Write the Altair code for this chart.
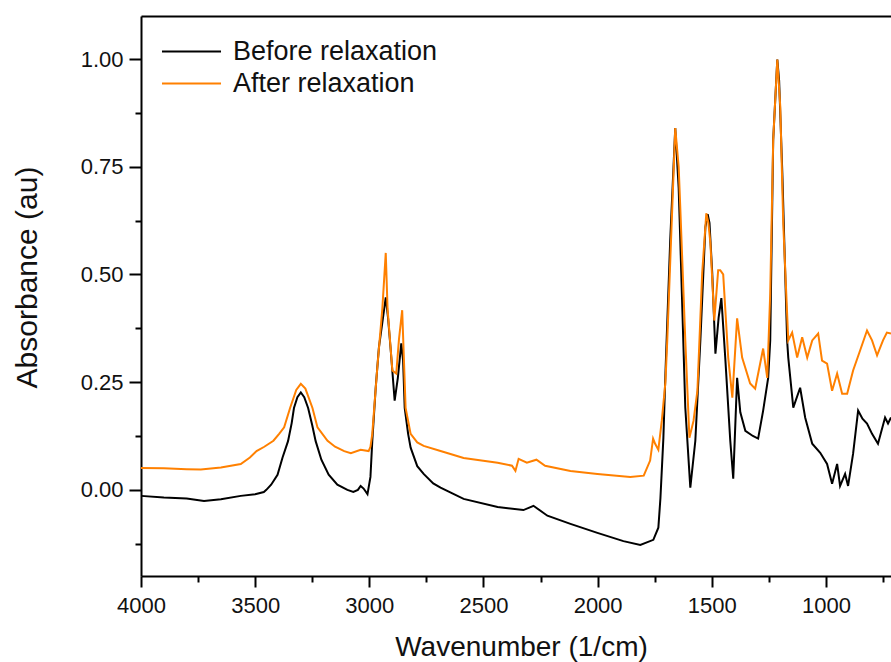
import altair as alt
import pandas as pd

# Before relaxation (black)
before_wn = [4000, 3900, 3800, 3724, 3650, 3563, 3500, 3462, 3451, 3430, 3402, 3380, 3356, 3340, 3330,
             3315, 3300, 3285, 3268, 3250, 3235, 3210, 3178, 3140, 3096, 3070, 3050, 3038, 3025, 3008,
             2995, 2987, 2972, 2958, 2940, 2928, 2918, 2906, 2889, 2875, 2860, 2852, 2845, 2830, 2819,
             2790, 2762, 2720, 2688, 2587, 2438, 2325, 2281, 2220, 2119, 2001, 1887,
             1813, 1756, 1734, 1725, 1712, 1703, 1682, 1660, 1645, 1638, 1616, 1594, 1572, 1550, 1528,
             1518, 1510, 1498, 1484, 1470, 1458, 1441, 1419, 1406, 1389, 1375, 1353, 1320, 1297, 1275,
             1253, 1244, 1231, 1213, 1205, 1191, 1170, 1165, 1143, 1113, 1091, 1060, 1025, 995, 973,
             951, 938, 916, 903, 881, 859, 840, 820, 798, 772, 741, 728, 715]
before_abs = [-0.014, -0.018, -0.020, -0.026, -0.022, -0.014, -0.010, -0.005, 0.0, 0.012, 0.035, 0.075, 0.113, 0.155, 0.19,
              0.215, 0.226, 0.215, 0.19, 0.15, 0.113, 0.07, 0.035, 0.012, 0.0, -0.005, 0.0, 0.009, 0.003, -0.01,
              0.03, 0.113, 0.237, 0.33, 0.40, 0.447, 0.40, 0.323, 0.207, 0.26, 0.34, 0.30, 0.19, 0.13, 0.098,
              0.055, 0.037, 0.015, 0.005, -0.021, -0.04, -0.047, -0.037, -0.06, -0.079, -0.1, -0.119,
              -0.128, -0.116, -0.088, -0.02, 0.12, 0.27, 0.58, 0.84, 0.70, 0.58, 0.191, 0.005, 0.114, 0.347, 0.61,
              0.64, 0.62, 0.503, 0.316, 0.40, 0.445, 0.307, 0.114, 0.026, 0.26, 0.18, 0.137, 0.125, 0.119, 0.184,
              0.26, 0.347, 0.812, 0.999, 0.95, 0.736, 0.347, 0.307, 0.191, 0.237, 0.168, 0.107, 0.086, 0.06, 0.014,
              0.06, 0.009, 0.037, 0.009, 0.084, 0.184, 0.165, 0.154, 0.13, 0.107, 0.168, 0.154, 0.168]

# After relaxation (orange)
after_wn = [4000, 3900, 3800, 3738, 3650, 3563, 3523, 3494, 3460, 3420, 3395, 3373, 3347, 3320, 3300,
            3280, 3249, 3227, 3183, 3150, 3110, 3081, 3038, 3003, 2995, 2987, 2965, 2943, 2928, 2920,
            2899, 2882, 2870, 2856, 2841, 2819, 2790, 2762, 2688, 2587, 2438, 2375, 2360, 2346, 2310,
            2268, 2230, 2119, 2001, 1857,
            1798, 1770, 1757, 1748, 1734, 1719, 1703, 1695, 1673, 1660, 1645, 1638, 1616, 1598, 1580,
            1563, 1542, 1524, 1515, 1506, 1489, 1472, 1463, 1450, 1428, 1410, 1389, 1367, 1332, 1310,
            1275, 1257, 1244, 1231, 1213, 1200, 1187, 1165, 1148, 1126, 1104, 1082, 1060, 1034, 1017,
            995, 973, 951, 929, 907, 881, 850, 820, 798, 776, 750, 733, 715]
after_abs = [0.051, 0.050, 0.048, 0.047, 0.052, 0.06, 0.075, 0.09, 0.10, 0.114, 0.13, 0.145, 0.19, 0.232, 0.246,
             0.235, 0.19, 0.145, 0.114, 0.10, 0.09, 0.085, 0.093, 0.09, 0.10, 0.13, 0.284, 0.42, 0.55, 0.42,
             0.277, 0.27, 0.35, 0.417, 0.19, 0.13, 0.11, 0.102, 0.09, 0.074, 0.063, 0.056, 0.044, 0.072, 0.063,
             0.07, 0.056, 0.044, 0.037, 0.03,
             0.033, 0.068, 0.119, 0.107, 0.093, 0.16, 0.25, 0.347, 0.656, 0.84, 0.75, 0.656, 0.347, 0.121, 0.16,
             0.23, 0.503, 0.642, 0.62, 0.573, 0.393, 0.51, 0.51, 0.50, 0.307, 0.214, 0.398, 0.307, 0.247, 0.235,
             0.328, 0.26, 0.456, 0.812, 0.999, 0.89, 0.619, 0.347, 0.365, 0.307, 0.354, 0.307, 0.347, 0.363, 0.30,
             0.293, 0.23, 0.27, 0.223, 0.223, 0.277, 0.324, 0.37, 0.347, 0.312, 0.347, 0.365, 0.363]

series_names = ["Before relaxation", "After relaxation"]
series_colors = ["#000000", "#FF8000"]
x_ticks = list(range(4000, 700, -250))
y_ticks = [-0.125, 0.0, 0.125, 0.25, 0.375, 0.5, 0.625, 0.75, 0.875, 1.0]

rows = []
for i, (w, a) in enumerate(zip(before_wn, before_abs)):
    rows.append({"wn": w, "abs": a, "series": series_names[0], "order": i})
for i, (w, a) in enumerate(zip(after_wn, after_abs)):
    rows.append({"wn": w, "abs": a, "series": series_names[1], "order": i})
df = pd.DataFrame(rows)

FONT = "Arial"
xscale = alt.Scale(domain=[4000, 715], nice=False, zero=False)
yscale = alt.Scale(domain=[-0.2, 1.1], nice=False, zero=False)

x_axis = alt.Axis(
    values=x_ticks,
    labelExpr="datum.value % 500 == 0 ? format(datum.value, 'd') : ''",
    tickSize={"condition": {"test": "datum.value % 500 != 0", "value": 6}, "value": 11},
    tickWidth=2, tickColor="black", domainWidth=2, domainColor="black",
    labelFontSize=22, labelFont=FONT, labelColor="#111", labelPadding=8,
    labelFlush=False, labelOverlap=False, grid=False,
    title="Wavenumber (1/cm)", titleFontSize=28, titleFont=FONT, titleFontWeight="normal",
    titleColor="#111", titleX=380, titleY=79, titleBaseline="alphabetic", titleAlign="center",
)
y_axis = alt.Axis(
    values=y_ticks,
    labelExpr="abs(datum.value*4 - round(datum.value*4)) > 0.01 ? '' : format(datum.value, '.2f')",
    tickSize={"condition": {"test": "abs(datum.value*4 - round(datum.value*4)) > 0.01", "value": 6}, "value": 12},
    tickWidth=2, tickColor="black", domainWidth=2, domainColor="black",
    labelFontSize=22, labelFont=FONT, labelColor="#111", labelPadding=6,
    labelOverlap=False, grid=False,
    title="Absorbance (au)", titleFontSize=30, titleFont=FONT, titleFontWeight="normal",
    titleColor="#111", titleX=-114, titleY=261, titleBaseline="middle", titleAlign="center",
    titleAngle=270,
)

lines = alt.Chart(df).mark_line(strokeWidth=2).encode(
    x=alt.X("wn:Q", scale=xscale, axis=x_axis),
    y=alt.Y("abs:Q", scale=yscale, axis=y_axis),
    color=alt.Color("series:N", sort=series_names,
                    scale=alt.Scale(domain=series_names, range=series_colors),
                    legend=alt.Legend(title=None, orient="none", legendX=37, legendY=22,
                                      symbolType="M-3,0L3,0", symbolSize=387, symbolStrokeWidth=2,
                                      labelFontSize=27, labelFont=FONT, labelColor="#111",
                                      labelOffset=28, rowPadding=4, padding=0, offset=0,
                                      labelLimit=400)),
    detail="series:N",
    order="order:Q",
)

top = alt.Chart(df).mark_line(strokeOpacity=0).encode(
    x=alt.X("wn:Q", scale=xscale,
            axis=alt.Axis(orient="top", labels=False, ticks=False, title=None, grid=False,
                          domainWidth=2, domainColor="black")),
    y=alt.Y("abs:Q", scale=yscale, axis=None),
    detail="series:N",
)

chart = alt.layer(lines, top).resolve_axis(x="independent", y="independent").properties(
    width=750, height=560,
    autosize=alt.AutoSizeParams(type="none"),
    padding={"left": 141, "top": 16, "right": 0, "bottom": 86},
    background="white",
).configure_view(stroke=None)

chart.save("out.html", embed_options={"renderer": "svg", "actions": False})
